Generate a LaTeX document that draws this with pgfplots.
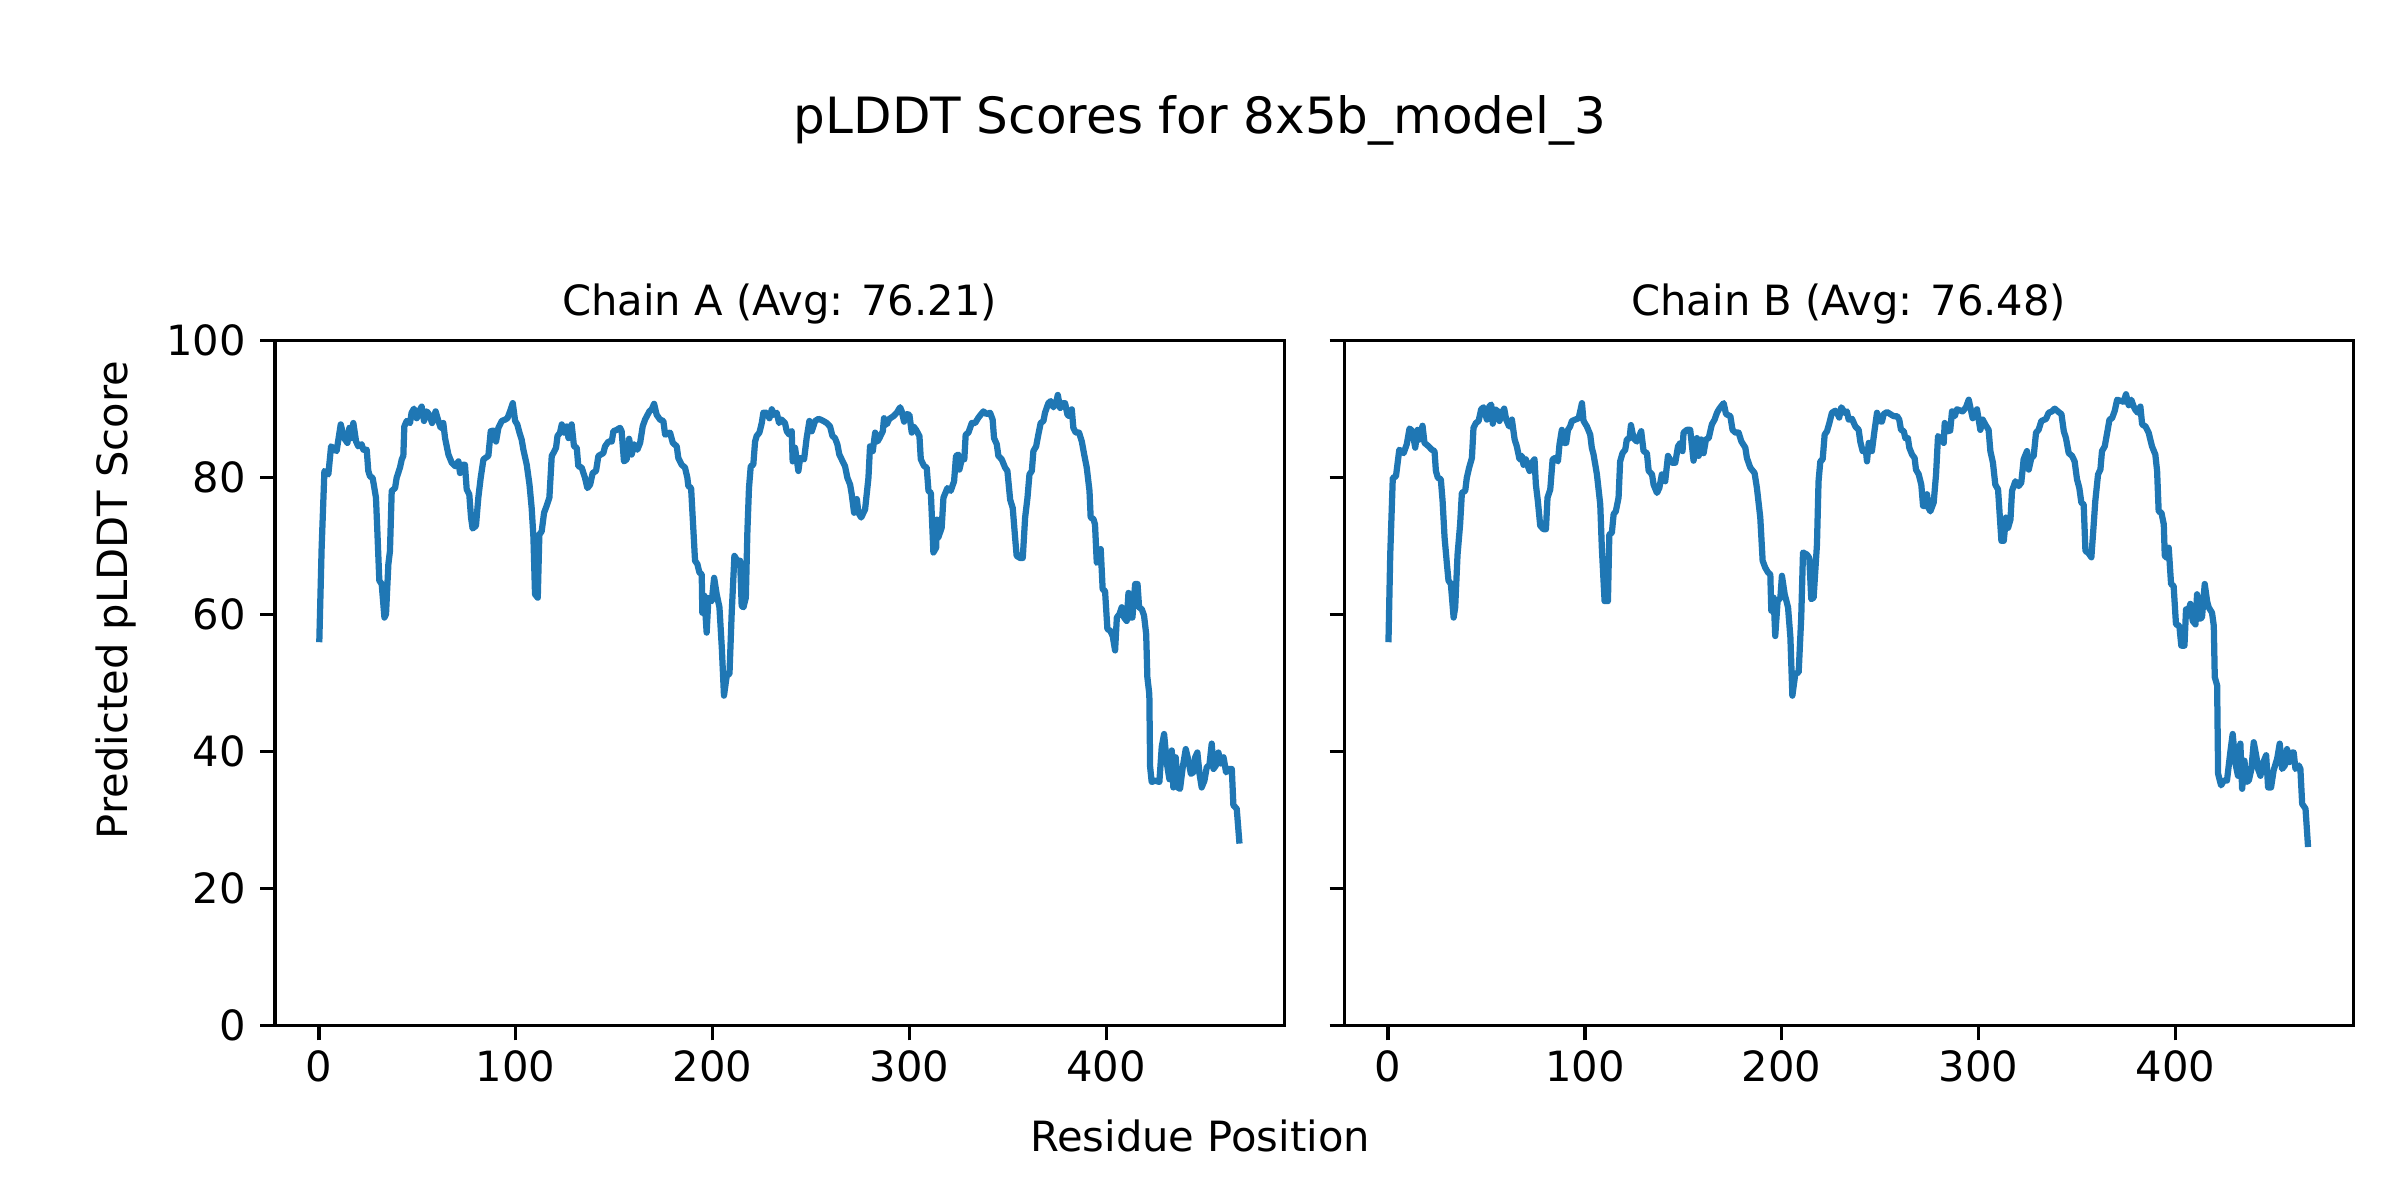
\documentclass[border=0pt]{standalone}
\usepackage{fontspec}
\setmainfont{DejaVu Sans}
\usepackage{pgfplots}
\pgfplotsset{compat=1.18}
\definecolor{mplblue}{HTML}{1F77B4}

\pgfplotstableread{
x y
0.2 56.0
1.4 69.8
2.8 81.0
4.8 80.5
6.2 84.6
9.0 83.9
11.1 87.8
12.8 85.8
14.5 85.1
15.5 87.3
16.7 85.8
17.5 88.0
18.9 85.3
20.0 84.6
21.7 84.9
22.6 84.1
24.3 84.1
25.1 81.0
26.0 80.2
27.3 80.0
29.0 77.1
29.7 72.2
30.7 65.0
31.9 64.5
33.3 59.6
34.1 60.1
35.3 67.4
36.1 69.3
37.0 78.1
38.7 78.5
39.5 80.0
41.2 81.5
42.1 82.7
42.9 83.2
43.4 87.5
44.6 88.3
46.3 88.0
47.1 89.5
48.3 90.1
49.7 88.7
51.0 89.7
52.2 90.4
53.4 88.3
54.8 89.7
56.1 89.2
57.5 88.0
59.3 89.7
60.7 88.3
61.9 87.3
63.2 88.0
64.1 85.8
65.8 83.4
67.5 82.2
69.2 81.7
70.9 82.4
71.7 80.7
73.1 81.9
74.2 81.9
75.1 78.3
76.4 77.6
77.3 74.2
78.1 72.6
79.8 73.0
81.0 77.1
82.2 80.0
83.6 82.7
86.1 83.2
87.3 86.8
88.6 86.9
90.0 85.3
91.2 87.3
92.9 88.3
94.6 88.5
95.8 88.7
97.1 89.7
98.5 90.9
99.7 88.3
100.8 87.8
101.9 86.6
103.0 85.6
103.9 84.1
105.6 81.9
107.0 79.0
108.1 75.6
109.0 71.3
109.8 63.0
111.2 62.5
112.0 71.7
113.2 72.2
114.4 74.9
115.7 75.9
117.1 77.1
118.3 83.2
119.1 83.6
120.5 84.4
121.2 86.1
122.5 86.6
123.4 87.8
124.5 86.6
125.9 87.5
126.8 85.8
128.4 87.8
129.6 84.6
131.0 84.4
131.8 81.7
133.5 81.5
135.2 80.0
136.4 78.5
137.8 79.0
139.1 80.7
140.8 81.0
142.0 83.2
144.5 83.6
145.4 84.6
147.1 85.3
148.8 85.3
149.6 86.8
151.3 87.0
153.0 87.3
153.8 86.8
155.0 82.4
156.4 82.7
157.6 85.7
158.9 83.4
160.3 84.9
161.8 84.1
163.2 85.1
164.5 87.5
165.7 88.5
167.9 89.7
169.1 90.0
170.3 90.8
171.6 89.2
173.3 88.5
175.0 88.3
175.9 86.3
178.4 86.6
179.8 85.1
181.8 84.6
182.6 82.9
184.3 81.9
186.0 81.5
187.2 80.0
187.7 78.8
189.1 78.5
190.2 72.7
191.1 67.9
192.3 67.4
193.3 66.2
194.5 65.9
194.8 60.3
195.8 62.8
197.0 57.4
197.9 62.5
199.6 62.0
200.8 65.4
202.1 63.0
203.5 61.1
204.7 55.2
205.8 48.2
207.2 51.1
208.6 51.4
209.7 60.1
211.1 68.6
212.6 67.9
214.0 67.9
214.8 61.3
215.7 61.1
216.9 62.5
217.7 72.2
218.5 78.5
219.4 81.7
220.7 81.9
221.6 85.3
222.4 86.1
223.8 86.6
225.0 88.0
225.8 89.5
227.5 89.5
228.9 88.7
230.1 90.0
231.3 89.2
232.6 89.5
233.8 88.0
235.1 88.5
236.8 88.0
237.7 86.8
239.0 86.3
240.2 86.8
240.7 82.4
241.9 84.4
243.6 81.0
244.5 82.9
246.5 82.7
247.8 85.8
249.2 88.3
250.4 86.8
252.1 88.3
253.8 88.6
254.9 88.5
256.3 88.3
258.0 88.0
259.7 87.5
260.9 86.1
262.2 85.8
263.4 84.9
264.4 83.4
266.1 82.4
267.3 81.7
268.5 80.0
269.9 79.0
270.7 77.6
271.9 74.9
273.3 76.9
274.1 74.9
275.5 74.2
277.5 75.4
279.2 80.0
280.0 84.6
281.4 83.9
282.6 86.6
283.8 85.3
284.8 85.8
286.5 86.8
287.1 88.7
288.5 87.8
289.8 88.6
291.9 89.0
293.6 89.5
295.3 90.3
296.1 89.7
297.3 88.2
298.7 89.3
300.0 89.2
301.2 86.6
302.1 87.5
303.4 87.0
305.1 86.1
305.8 82.7
307.5 81.7
308.8 81.5
309.7 78.1
310.9 77.8
312.2 69.1
313.6 69.8
314.0 73.9
314.7 71.3
316.4 72.7
317.3 77.1
319.3 78.5
321.0 78.1
322.7 79.5
323.7 83.2
324.9 83.4
325.4 81.2
326.6 82.7
327.9 82.7
328.6 86.3
330.0 86.6
331.7 88.0
333.4 88.0
335.1 88.8
336.2 89.2
337.6 89.7
339.3 89.3
341.0 89.5
342.3 88.5
343.0 85.8
344.4 84.9
345.2 83.2
346.9 82.7
348.6 81.5
349.8 81.0
351.2 76.8
352.5 75.6
353.7 71.3
354.5 68.6
356.2 68.3
357.6 68.3
358.8 74.2
360.0 77.1
361.0 80.5
362.2 81.0
363.0 83.9
364.4 84.6
365.5 86.3
366.7 88.0
368.1 88.3
368.9 89.5
370.6 90.9
371.8 91.2
373.2 90.3
374.5 90.9
375.4 92.1
376.6 90.2
377.9 90.9
379.1 90.9
380.3 89.2
381.3 89.0
382.5 90.0
383.3 87.3
384.5 86.6
386.2 86.6
387.6 85.3
388.8 83.4
390.1 81.5
391.5 78.1
392.1 74.2
393.5 74.0
394.3 73.2
395.2 67.6
396.5 67.9
397.2 69.6
398.2 63.7
399.4 63.5
400.6 57.9
402.0 57.7
403.3 56.9
404.5 54.8
405.4 59.6
406.7 60.1
407.9 61.1
409.1 59.6
410.4 59.1
411.3 63.2
412.1 59.6
413.3 59.6
414.7 64.5
415.9 64.5
416.7 61.1
418.1 60.8
419.2 59.9
420.3 57.2
420.9 50.9
421.9 48.4
422.3 37.8
423.1 35.6
424.8 35.8
427.0 35.6
428.2 40.7
429.4 42.6
430.8 38.3
432.1 36.0
433.3 40.2
434.1 34.8
435.3 39.2
436.3 34.8
437.5 34.6
438.9 37.8
440.4 40.4
441.8 38.7
443.0 36.8
444.3 37.0
445.2 39.2
446.3 39.9
447.4 36.8
448.5 34.8
449.9 35.8
451.1 37.8
452.4 38.0
453.6 41.2
454.5 37.5
455.7 38.0
457.0 39.9
458.2 38.3
459.6 39.2
460.9 37.0
462.1 37.5
463.8 37.5
464.6 32.2
466.3 31.7
467.7 26.6
}\chainA

\pgfplotstableread{
x y
0.2 56.0
1.1 68.8
2.4 80.0
4.0 80.2
5.7 84.1
7.9 83.6
9.5 84.9
10.9 87.2
12.4 86.8
13.8 84.4
15.0 87.0
16.0 85.6
17.5 87.6
18.5 85.1
20.6 84.6
22.2 84.1
23.6 83.9
24.3 81.0
25.3 80.0
26.8 79.8
27.7 76.6
28.7 71.3
29.9 67.4
30.7 65.0
31.9 64.5
33.3 59.6
34.1 61.1
35.3 68.8
36.6 73.2
37.5 77.8
39.2 78.1
40.0 80.0
41.2 81.5
42.6 82.9
43.4 87.3
44.6 88.0
46.0 88.3
47.3 90.0
48.5 90.3
50.2 88.5
51.4 90.4
52.4 90.7
53.2 87.9
54.4 90.0
55.8 89.7
56.6 88.3
57.8 89.5
59.0 90.1
60.0 88.5
61.5 87.5
62.9 88.5
64.3 85.6
65.4 84.6
66.8 82.7
68.0 83.2
68.8 81.9
70.0 82.7
71.0 81.7
71.9 81.0
73.1 82.2
74.4 82.7
75.1 79.0
76.1 76.6
77.3 73.0
79.0 72.5
80.2 72.5
81.0 77.1
82.4 78.3
83.6 82.7
84.9 82.9
86.3 82.4
87.1 84.9
88.3 87.0
89.5 85.1
90.5 85.1
91.4 87.0
92.5 87.5
93.4 88.3
95.1 88.5
96.8 88.7
97.6 89.7
98.5 90.9
99.3 88.3
101.0 87.5
102.7 86.3
103.5 84.4
104.4 83.4
106.1 80.5
107.8 76.1
108.6 69.8
110.0 62.0
111.7 62.0
112.4 71.7
113.7 72.0
114.6 74.7
115.7 75.1
117.1 77.1
117.9 82.4
119.1 83.6
120.5 84.1
121.3 85.6
122.7 85.8
123.4 87.7
124.7 85.8
126.4 85.3
128.6 86.8
129.8 83.9
131.5 83.6
132.4 81.0
134.1 80.5
134.9 79.0
136.6 77.8
137.8 78.5
139.1 80.5
140.8 79.5
142.2 83.2
144.2 82.2
145.9 82.2
147.3 84.6
148.5 85.1
149.6 83.9
150.1 86.6
151.8 87.0
153.5 87.0
155.2 82.5
156.9 85.8
157.8 83.2
159.1 85.6
160.3 83.6
161.5 85.6
162.9 85.8
164.5 87.8
165.9 88.5
167.1 89.5
168.3 90.1
170.5 90.9
171.7 89.3
173.9 89.0
175.0 87.0
176.4 86.6
178.1 86.6
179.5 85.3
181.5 84.4
182.3 82.9
184.0 81.5
186.2 80.7
187.4 78.5
189.1 74.2
190.3 67.9
191.6 66.9
193.0 66.2
194.2 65.9
194.7 60.6
195.9 62.5
196.7 56.9
197.9 62.0
199.3 62.5
200.1 65.7
201.5 63.0
203.2 61.1
204.4 56.7
205.4 48.2
206.9 51.4
208.6 51.6
209.9 59.6
210.8 69.1
212.8 68.8
214.0 68.3
215.0 62.3
216.2 62.5
217.9 70.3
218.7 79.5
219.6 82.4
220.8 82.7
221.8 86.3
223.0 86.8
224.2 88.0
225.5 89.5
227.2 89.8
228.6 89.2
229.2 88.8
230.3 90.3
232.0 89.5
233.1 89.7
234.0 88.5
235.7 88.6
237.4 87.5
239.1 87.0
239.9 85.3
241.1 83.9
242.8 83.9
243.3 82.4
244.2 85.1
245.8 83.9
247.0 86.6
248.4 89.5
249.6 88.3
250.9 88.2
251.8 89.3
253.5 89.6
255.7 89.2
256.9 89.0
258.6 89.0
259.7 88.5
260.6 87.0
262.0 86.8
262.8 85.8
264.1 85.8
264.8 84.4
266.2 83.4
267.5 82.9
268.2 81.2
269.6 80.5
270.9 79.0
271.8 75.9
273.0 75.9
273.8 77.6
274.6 75.6
275.5 75.1
277.2 76.4
278.4 80.5
279.4 86.1
280.6 85.8
282.3 85.1
282.8 88.0
284.3 86.8
285.6 86.9
286.5 89.7
287.9 89.0
289.0 90.0
291.9 89.7
293.6 90.3
295.0 91.4
297.0 88.7
299.2 90.0
300.9 87.0
302.1 88.5
303.4 87.8
305.1 87.0
306.0 83.9
307.3 82.2
308.5 79.0
309.9 78.3
311.6 70.8
312.8 70.8
313.9 74.2
315.0 72.7
316.2 73.9
317.0 78.1
318.7 79.5
320.4 78.8
321.7 79.3
322.9 82.7
324.6 83.9
325.5 81.2
326.8 82.9
328.0 83.2
329.2 86.6
330.5 87.0
331.9 88.3
334.3 88.6
335.6 89.5
337.3 89.7
338.7 90.1
340.7 89.6
342.1 89.3
343.3 86.8
344.4 85.8
345.8 83.6
347.5 83.2
348.8 82.4
350.0 79.8
351.2 78.5
352.2 76.4
353.4 76.1
354.3 69.3
355.6 69.1
357.3 68.4
358.5 73.2
359.3 76.6
360.7 80.5
361.9 81.2
362.7 83.9
364.1 84.6
365.6 87.0
366.5 88.5
367.8 88.7
369.2 89.8
370.4 91.4
372.6 91.2
373.7 91.1
374.9 92.2
376.3 90.6
377.6 91.4
378.8 90.4
379.7 89.9
380.9 89.5
382.2 90.4
383.1 87.8
384.8 87.5
386.4 86.6
388.1 84.6
389.8 83.4
390.7 81.0
391.5 75.1
392.9 74.9
394.1 73.2
394.6 68.6
395.8 68.3
396.6 69.8
397.8 64.5
399.1 64.2
400.3 58.6
402.0 58.4
403.0 55.5
404.6 55.5
405.4 60.8
406.8 60.8
407.6 61.6
408.8 59.1
410.2 58.6
411.0 63.0
412.2 59.4
413.5 59.6
414.9 64.5
416.1 62.0
416.9 61.1
418.6 60.3
419.5 58.4
420.0 50.9
421.2 49.7
421.7 36.8
423.2 35.1
424.6 35.8
426.2 35.8
428.0 40.2
429.1 42.6
430.5 38.3
431.8 36.5
433.0 41.2
433.9 34.6
435.1 38.7
435.9 35.6
437.3 35.8
438.6 37.5
439.8 41.4
441.2 39.2
442.0 37.5
443.2 36.5
444.4 38.3
446.1 39.5
447.1 34.8
448.6 34.8
449.9 37.3
451.7 39.0
453.0 41.2
454.2 37.5
455.6 38.0
456.7 40.4
457.9 38.5
459.3 39.9
460.1 39.9
461.0 37.5
462.7 38.0
463.5 37.5
464.4 32.4
466.1 31.7
467.4 26.1
}\chainB

\pgfplotsset{
  panel/.style={
    scale only axis, anchor=south west,
    width=242.2bp, height=164.4bp,
    xmin=-22.3, xmax=490.4, ymin=0, ymax=100,
    xtick={0,100,200,300,400}, ytick={0,20,40,60,80,100},
    tick align=outside, xtick pos=bottom, ytick pos=left,
    major tick length=3.5bp,
    axis line style={line width=0.8bp},
    every tick/.style={black, line width=0.8bp},
    tick label style={font=\fontsize{10bp}{12bp}\selectfont},
    xticklabel style={inner sep=0pt, yshift=-2.2bp},
    yticklabel style={inner sep=0pt, xshift=-3.3bp},
    /pgf/number format/assume math mode=true,
    title style={font=\fontsize{10bp}{12bp}\selectfont, at={(0.5,1)}, anchor=base, yshift=0bp, inner sep=0pt},
  },
  chain/.style={mplblue, line width=1.5bp, line join=round, no marks},
}

\begin{document}
\begin{tikzpicture}[font=\fontsize{10bp}{12bp}\selectfont]
\path[use as bounding box] (0,0) rectangle (576bp,288bp);

\begin{axis}[panel, at={(66bp,41.8bp)}, title={Chain A (Avg: 76.21)}]
\addplot[chain] table[x=x, y=y] {\chainA};
\end{axis}

\begin{axis}[panel, at={(322.6bp,41.8bp)}, yticklabels={}, title={Chain B (Avg: 76.48)}]
\addplot[chain] table[x=x, y=y] {\chainB};
\end{axis}

\node[anchor=base, inner sep=0pt] at (288bp,256bp) {\fontsize{12bp}{14bp}\selectfont pLDDT Scores for 8x5b\_model\_3};
\node[anchor=base, inner sep=0pt] at (288bp,11.6bp) {Residue Position};
\node[anchor=base, rotate=90, inner sep=0pt] at (30.5bp,144bp) {Predicted pLDDT Score};
\end{tikzpicture}
\end{document}
